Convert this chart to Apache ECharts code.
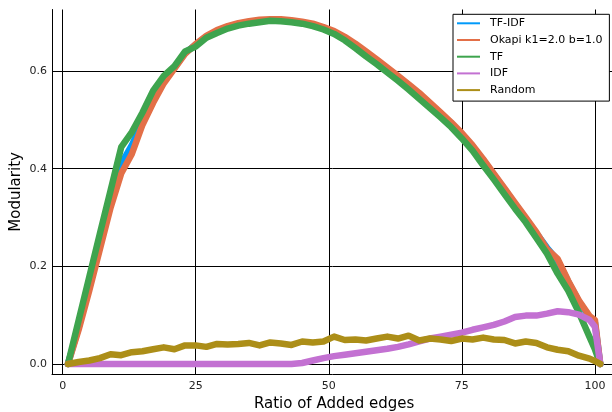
<!DOCTYPE html>
<html><head><meta charset="utf-8">
<script src="https://cdn.jsdelivr.net/npm/echarts@6/dist/echarts.min.js"></script>
<style>html,body{margin:0;padding:0;background:#fff}#c{width:612px;height:412px}</style>
</head><body><div id="c"></div>
<script>
const xs = [1,3,5,7,9,11,13,15,17,19,21,23,25,27,29,31,33,35,37,39,41,43,45,47,49,51,53,55,57,59,61,63,65,67,69,71,73,75,77,79,81,83,85,87,89,91,93,95,97,99,100,101];
const tfidf = [0,0.075,0.16,0.245,0.33,0.41,0.448,0.497,0.543,0.58,0.607,0.637,0.654,0.670,0.682,0.690,0.696,0.700,0.703,0.704,0.704,0.702,0.699,0.695,0.688,0.680,0.668,0.654,0.638,0.622,0.605,0.588,0.571,0.553,0.533,0.513,0.493,0.471,0.446,0.418,0.388,0.358,0.328,0.298,0.268,0.238,0.212,0.168,0.128,0.096,0.085,0];
const okapi = [0,0.07,0.15,0.235,0.32,0.39,0.43,0.49,0.535,0.575,0.605,0.635,0.655,0.672,0.684,0.692,0.698,0.702,0.705,0.706,0.706,0.704,0.701,0.697,0.690,0.682,0.670,0.656,0.640,0.624,0.607,0.590,0.573,0.555,0.535,0.515,0.495,0.473,0.448,0.420,0.390,0.360,0.330,0.300,0.270,0.235,0.215,0.170,0.130,0.098,0.090,0];
const tf = [0,0.089,0.178,0.267,0.355,0.444,0.475,0.515,0.560,0.590,0.610,0.640,0.650,0.668,0.678,0.687,0.693,0.697,0.700,0.703,0.702,0.700,0.697,0.692,0.685,0.676,0.663,0.647,0.630,0.614,0.597,0.580,0.562,0.543,0.524,0.505,0.485,0.462,0.437,0.407,0.378,0.348,0.318,0.290,0.258,0.226,0.185,0.150,0.105,0.055,0.030,0];
const idf = [0,0,0,0,0,0,0,0,0,0,0,0,0,0,0,0,0,0,0,0,0,0,0.002,0.007,0.012,0.016,0.019,0.022,0.025,0.028,0.031,0.035,0.040,0.046,0.052,0.056,0.060,0.064,0.070,0.075,0.080,0.087,0.096,0.099,0.099,0.103,0.108,0.106,0.101,0.090,0.076,0];
const rnd = [0,0.004,0.007,0.012,0.020,0.018,0.024,0.026,0.030,0.034,0.030,0.038,0.038,0.035,0.041,0.040,0.041,0.043,0.038,0.044,0.042,0.039,0.046,0.044,0.046,0.056,0.049,0.050,0.048,0.052,0.056,0.052,0.058,0.048,0.052,0.050,0.047,0.052,0.050,0.054,0.050,0.049,0.042,0.046,0.043,0.034,0.029,0.026,0.017,0.011,0.006,0];
const names = ['TF-IDF','Okapi k1=2.0 b=1.0','TF','IDF','Random'];
const colors = ['#009AFA','#E36F47','#3EA44E','#C371D2','#AC8E18'];
const seriesVals = [tfidf, okapi, tf, idf, rnd];
const xTicks = [0,25,50,75,100];
const yTicks = [0,0.2,0.4,0.6];

const FONT = 'DejaVu Sans';
const chart = echarts.init(document.getElementById('c'), null, {renderer:'canvas'});
chart.setOption({
  animation:false,
  backgroundColor:'#fff',
  color: colors,
  grid:{left:52, top:9.5, width:564.2, height:364.8, containLabel:false, outerBoundsMode:'none'},
  xAxis:{type:'value', min:-2, max:104,
    name:'Ratio of Added edges', nameLocation:'middle', nameGap:22, nameMoveOverlap:false,
    nameTextStyle:{fontFamily:FONT, fontSize:15, color:'#000'},
    axisLine:{show:true, onZero:false, lineStyle:{color:'#000', width:1}},
    axisTick:{show:true, inside:true, length:4, customValues:xTicks, lineStyle:{color:'#000'}},
    axisLabel:{customValues:xTicks, fontFamily:FONT, fontSize:11, color:'#222', margin:6, formatter:v=>String(v)},
    splitLine:{show:true, lineStyle:{color:'#000', width:1}}
  },
  yAxis:{type:'value', min:-0.0212, max:0.726,
    name:'Modularity', nameLocation:'middle', nameGap:28, nameRotate:90, nameMoveOverlap:false,
    nameTextStyle:{fontFamily:FONT, fontSize:15, color:'#000'},
    axisLine:{show:true, onZero:false, lineStyle:{color:'#000', width:1}},
    axisTick:{show:true, inside:true, length:4, customValues:yTicks, lineStyle:{color:'#000'}},
    axisLabel:{customValues:yTicks, fontFamily:FONT, fontSize:11, color:'#222', margin:5, formatter:v=>v.toFixed(1)},
    splitLine:{show:true, lineStyle:{color:'#000', width:1}}
  },
  legend:{orient:'vertical', left:453, top:14.3,
    data: names.map(n=>({name:n, icon:'rect'})),
    itemWidth:23, itemHeight:2, itemGap:5.7,
    padding:[3.5,7,5.5,4],
    backgroundColor:'#fff', borderColor:'#000', borderWidth:1, borderRadius:0,
    textStyle:{fontFamily:FONT, fontSize:11, color:'#000', lineHeight:11, padding:[0,0,0,5]}
  },
  series: names.map((n,i)=>({
    name:n, type:'line', showSymbol:false, symbol:'none',
    data: xs.map((x,j)=>[x, seriesVals[i][j]]),
    lineStyle:{width:6.5, color:colors[i], cap:'round', join:'round'},
    itemStyle:{color:colors[i]},
    z: 2+i
  }))
});
</script></body></html>
